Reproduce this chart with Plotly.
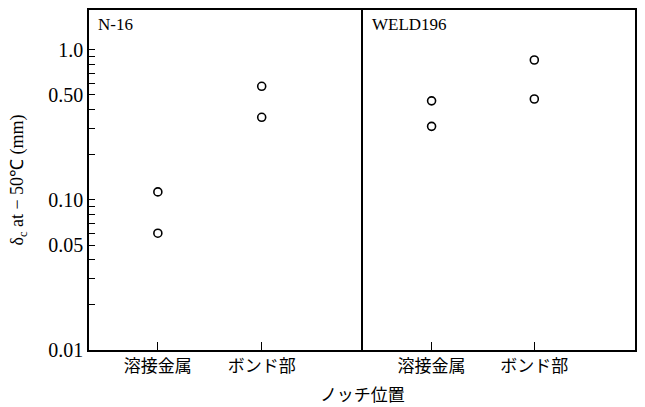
import plotly.graph_objects as go

# Notch positions and CTOD values (mm) at -50 deg C
categories = ["溶接金属", "ボンド部"]
cat_pos = [1, 2]

n16_weld = [0.113, 0.060]
n16_bond = [0.571, 0.355]
weld196_weld = [0.457, 0.309]
weld196_bond = [0.855, 0.470]

panel_names = ["N-16", "WELD196"]

ytick_vals = [0.01, 0.02, 0.03, 0.04, 0.05, 0.06, 0.07, 0.08, 0.09,
              0.1, 0.2, 0.3, 0.4, 0.5, 0.6, 0.7, 0.8, 0.9, 1.0]
ytick_text = ["0.01", "", "", "", "0.05", "", "", "", "",
              "0.10", "", "", "", "0.50", "", "", "", "", "1.0"]

serif = "Liberation Serif"
cjk = "Noto Sans CJK JP"

fig = go.Figure()

marker = dict(symbol="circle-open", size=8, color="black", line=dict(width=1.6, color="black"))

panels = [(n16_weld, n16_bond, "x", "y"), (weld196_weld, weld196_bond, "x2", "y2")]
for weld_vals, bond_vals, xa, ya in panels:
    xs = [cat_pos[0]] * len(weld_vals) + [cat_pos[1]] * len(bond_vals)
    ys = weld_vals + bond_vals
    fig.add_trace(go.Scatter(x=xs, y=ys, mode="markers", marker=marker,
                             xaxis=xa, yaxis=ya, showlegend=False))

split = 0.5027
xcommon = dict(range=[0.337, 2.98], tickvals=cat_pos, ticktext=categories,
               ticks="inside", ticklen=8, tickwidth=1.2, tickcolor="black",
               showline=True, linecolor="black", linewidth=1.5, mirror=True,
               showgrid=False, zeroline=False,
               tickfont=dict(family=cjk, size=17, color="black"))
ycommon = dict(type="log", range=[-2, 0.265], showline=True, linecolor="black",
               showgrid=False, zeroline=False)

fig.update_layout(
    width=645, height=407,
    margin=dict(l=89, r=9, t=8, b=57),
    plot_bgcolor="white", paper_bgcolor="white",
    xaxis=dict(domain=[0, split], anchor="y", **xcommon),
    xaxis2=dict(domain=[split, 1], anchor="y2", **xcommon),
    yaxis=dict(anchor="x", tickvals=ytick_vals, ticktext=ytick_text,
               ticks="inside", ticklen=6, tickwidth=1.2, tickcolor="black",
               linewidth=1.5, mirror=False,
               tickfont=dict(family=serif, size=20, color="black"),
               title=dict(text="δ<sub>c</sub> at − 50℃ (mm)",
                          font=dict(family=serif, size=18, color="black"),
                          standoff=20),
               **ycommon),
    yaxis2=dict(anchor="x2", ticks="", showticklabels=False,
                linewidth=1.8, mirror=True, **ycommon),
    annotations=[
        dict(text=panel_names[0], xref="paper", yref="paper", x=0.012, y=0.99,
             xanchor="left", yanchor="top", showarrow=False,
             font=dict(family=serif, size=17, color="black")),
        dict(text=panel_names[1], xref="paper", yref="paper", x=split + 0.012, y=0.99,
             xanchor="left", yanchor="top", showarrow=False,
             font=dict(family=serif, size=17, color="black")),
        dict(text="ノッチ位置", xref="paper", yref="paper", x=0.5, y=-0.128,
             xanchor="center", yanchor="middle", showarrow=False,
             font=dict(family=cjk, size=17, color="black")),
    ],
)

fig.write_html("out.html")
